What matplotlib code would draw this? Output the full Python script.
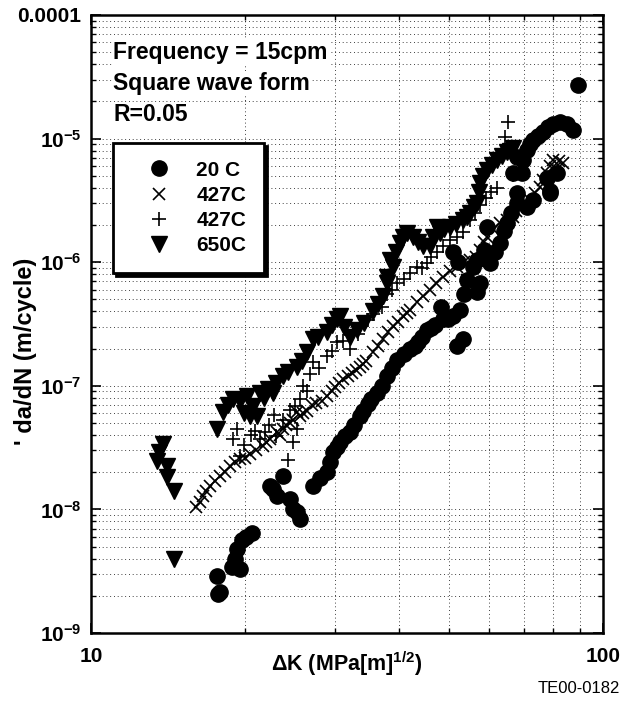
import math
import matplotlib
matplotlib.use("Agg")
import matplotlib.pyplot as plt
from matplotlib.ticker import FixedLocator, FuncFormatter, LogLocator, NullFormatter

plt.rcParams['font.family'] = ['Liberation Sans', 'DejaVu Sans']
plt.rcParams['font.weight'] = 'bold'
plt.rcParams['mathtext.fontset'] = 'custom'
plt.rcParams['mathtext.rm'] = 'Liberation Sans:bold'
plt.rcParams['mathtext.bf'] = 'Liberation Sans:bold'
plt.rcParams['mathtext.it'] = 'Liberation Sans:bold'

# --- data (dK in MPa m^1/2, da/dN in m/cycle) ---
dk_20c = [17.6, 17.7, 17.9, 18.85, 19.1, 19.3, 19.5, 19.7, 20.1, 20.6,
          22.4, 22.7, 23.1, 23.7, 24.5, 24.8, 25.25, 25.6, 27.1, 28.0, 28.9, 29.3, 29.7, 30.2, 30.65,
          31.3, 32.0, 32.7, 33.5, 34.0, 34.75, 35.3, 36.2, 37.0, 37.9, 38.8, 39.6, 40.8, 42.0, 43.0,
          43.5, 44.3, 45.3, 46.2, 47.0, 48.7, 49.8, 50.9, 51.9, 53.3, 52.6, 53.5, 54.3, 55.75,
          56.75, 56.75, 57.5, 58.5, 60.2, 61.5, 62.9, 64.0, 64.9, 59.4, 66.0, 67.9, 67.9, 71.1,
          69.5, 69.8, 71.1, 72.0, 73.0, 74.5, 76.4, 78.0, 80.0, 82.4, 85.0, 87.4, 78.8, 81.3, 89.4,
          50.9, 52.0, 48.3, 66.7, 73.0, 77.7, 67.9, 78.8]
dadn_20c = [2.9e-9, 2.07e-9, 2.14e-9, 3.4e-9, 4.0e-9, 4.8e-9, 3.3e-9, 5.7e-9, 6.0e-9, 6.5e-9,
            1.54e-8, 1.46e-8, 1.28e-8, 1.85e-8, 1.21e-8, 1.0e-8, 9.5e-9, 8.3e-9, 1.54e-8, 1.8e-8, 2.0e-8, 2.4e-8, 2.9e-8, 3.2e-8, 3.5e-8,
            3.9e-8, 4.2e-8, 4.8e-8, 5.7e-8, 6.3e-8, 7.1e-8, 7.8e-8, 8.8e-8, 1.0e-7, 1.19e-7, 1.4e-7, 1.63e-7, 1.8e-7, 1.97e-7, 2.1e-7,
            2.24e-7, 2.5e-7, 2.85e-7, 2.95e-7, 3.1e-7, 3.44e-7, 3.5e-7, 3.64e-7, 2.08e-7, 2.37e-7, 4.14e-7, 5.5e-7, 7.24e-7, 9.2e-7,
            1.05e-6, 5.7e-7, 6.84e-7, 1.25e-6, 9.9e-7, 1.2e-6, 1.44e-6, 1.8e-6, 2.09e-6, 1.94e-6, 2.5e-6, 3.0e-6, 3.65e-6, 2.81e-6,
            5.3e-6, 6.7e-6, 8.1e-6, 9.0e-6, 9.8e-6, 1.05e-5, 1.14e-5, 1.25e-5, 1.3e-5, 1.37e-5, 1.3e-5, 1.18e-5, 3.65e-6, 5.3e-6, 2.72e-5,
            1.2e-6, 1.0e-6, 4.3e-7, 5.3e-6, 3.2e-6, 4.8e-6, 7.1e-6, 3.8e-6]

dk_427x = [16.0, 16.3, 16.55, 16.8, 17.1, 17.5, 17.9, 18.3, 18.7, 19.1, 19.5, 20.0, 20.45, 21.0,
           21.7, 22.0, 22.4, 23.1, 23.4, 23.7, 24.0, 24.5, 24.8, 25.25, 25.6, 26.0, 26.4, 27.0,
           27.5, 28.2, 28.9, 29.5, 30.0, 30.5, 31.1, 31.7, 32.3, 32.9, 33.5, 34.0, 34.5, 35.55,
           36.3, 37.2, 38.0, 38.9, 39.8, 40.7, 41.4, 42.0, 43.3, 44.5, 45.9, 47.2, 48.7, 50.2,
           51.9, 53.5, 55.0, 54.3, 55.75, 56.5, 57.5, 58.5, 59.4, 61.0, 62.9, 64.8, 66.7, 67.7,
           68.85, 70.5, 72.0, 73.6, 75.3, 76.5, 77.7, 78.8, 79.9, 80.5, 82.0, 83.6]
dadn_427x = [1.04e-8, 1.15e-8, 1.28e-8, 1.4e-8, 1.54e-8, 1.7e-8, 1.85e-8, 2.0e-8, 2.23e-8, 2.4e-8, 2.54e-8, 2.6e-8, 2.8e-8, 3.0e-8,
             3.24e-8, 3.5e-8, 3.7e-8, 4.2e-8, 4.0e-8, 4.44e-8, 4.8e-8, 5.0e-8, 5.3e-8, 6.1e-8, 5.66e-8, 6.0e-8, 6.2e-8, 7.0e-8,
             7.2e-8, 7.6e-8, 8.2e-8, 9.0e-8, 9.8e-8, 1.05e-7, 1.13e-7, 1.2e-7, 1.28e-7, 1.35e-7, 1.43e-7, 1.5e-7, 1.6e-7, 1.86e-7,
             2.1e-7, 2.37e-7, 2.7e-7, 3.02e-7, 3.3e-7, 3.64e-7, 3.9e-7, 4.1e-7, 4.72e-7, 5.3e-7, 6.0e-7, 6.8e-7, 7.65e-7, 8.5e-7,
             9.2e-7, 1.0e-6, 1.05e-6, 7.24e-7, 9.2e-7, 1.1e-6, 1.26e-6, 1.45e-6, 1.61e-6, 1.85e-6, 2.09e-6, 2.2e-6, 2.34e-6, 2.6e-6,
             2.81e-6, 3.0e-6, 3.2e-6, 3.6e-6, 4.08e-6, 4.6e-6, 5.29e-6, 6.0e-6, 6.74e-6, 5.8e-6, 6.6e-6, 6.37e-6]

dk_427p = [18.9, 19.3, 19.5, 19.9, 20.5, 20.9, 21.4, 21.9, 22.3, 22.8, 23.0, 23.7, 24.2, 24.5,
           24.8, 25.0, 25.3, 25.6, 26.0, 26.4, 26.8, 27.1, 27.9, 28.9, 29.5, 30.2, 31.0, 32.0,
           33.2, 34.75, 35.5, 36.2, 37.0, 37.9, 38.7, 39.6, 40.8, 42.0, 43.3, 44.3, 45.3, 46.2,
           47.4, 48.8, 50.25, 51.8, 53.3, 55.0, 56.2, 57.5, 59.0, 60.5, 62.1, 64.4, 65.2, 66.7, 68.85]
dadn_427p = [3.7e-8, 4.44e-8, 2.7e-8, 3.3e-8, 4.0e-8, 4.3e-8, 3.7e-8, 4.2e-8, 4.8e-8, 5.8e-8, 3.9e-8, 5.3e-8, 2.5e-8, 6.4e-8,
             3.5e-8, 6.9e-8, 4.5e-8, 7.8e-8, 1.0e-7, 9.0e-8, 1.25e-7, 1.55e-7, 1.4e-7, 1.73e-7, 1.9e-7, 2.24e-7, 2.3e-7, 1.97e-7,
             2.6e-7, 3.4e-7, 3.8e-7, 4.6e-7, 4.3e-7, 5.5e-7, 6.0e-7, 6.84e-7, 7.3e-7, 8.24e-7, 9.2e-7, 9.0e-7, 9.9e-7, 1.1e-6,
             1.2e-6, 1.35e-6, 1.52e-6, 1.6e-6, 1.77e-6, 2.2e-6, 2.5e-6, 2.9e-6, 3.3e-6, 3.7e-6, 4.0e-6, 1.03e-5, 1.37e-5, 5.1e-6, 6.7e-6]

dk_650 = [13.8, 13.6, 13.46, 14.1, 14.1, 14.5, 14.5,
          17.6, 18.1, 18.5, 18.9, 19.5, 19.9, 20.2, 20.45, 21.1, 20.7, 21.4, 21.8, 22.2, 22.7,
          23.0, 23.7, 24.3, 25.25, 25.8, 26.4, 27.1, 27.8, 28.9, 29.5, 30.2, 30.65, 31.2, 32.0,
          33.1, 34.2, 35.5, 36.4, 37.2, 37.9, 38.9, 37.9, 38.4, 39.4, 40.1, 40.7, 41.4, 42.6,
          43.5, 44.5, 45.9, 46.5, 47.4, 48.0, 49.0, 50.25, 51.6, 53.3, 54.2, 55.0, 56.0, 56.75,
          57.2, 57.5, 58.3, 59.4, 60.8, 62.1, 63.5, 64.9, 65.8, 66.7]
dadn_650 = [3.37e-8, 2.9e-8, 2.45e-8, 2.23e-8, 1.82e-8, 1.40e-8, 3.96e-9,
            4.44e-8, 6.1e-8, 7.0e-8, 7.8e-8, 7.5e-8, 6.0e-8, 8.2e-8, 5.7e-8, 5.7e-8, 6.8e-8, 8.8e-8, 8.0e-8, 9.5e-8, 8.8e-8,
            1.05e-7, 1.19e-7, 1.3e-7, 1.43e-7, 1.6e-7, 1.86e-7, 2.37e-7, 2.5e-7, 2.7e-7, 3.1e-7, 3.44e-7, 3.64e-7, 3.0e-7, 2.5e-7,
            2.85e-7, 3.2e-7, 4.0e-7, 4.6e-7, 5.3e-7, 6.8e-7, 9.2e-7, 7.65e-7, 1.05e-6, 1.2e-6, 1.44e-6, 1.61e-6, 1.73e-6, 1.61e-6,
            1.45e-6, 1.34e-6, 1.34e-6, 1.6e-6, 1.94e-6, 1.73e-6, 1.85e-6, 1.94e-6, 2.05e-6, 2.21e-6, 2.3e-6, 2.52e-6, 2.8e-6, 3.03e-6,
            3.7e-6, 4.4e-6, 5.0e-6, 5.6e-6, 6.1e-6, 6.74e-6, 7.2e-6, 7.8e-6, 8.0e-6, 8.4e-6]

series_labels = ['20 C', '427C', '427C', '650C']
notes = ['Frequency = 15cpm', 'Square wave form', 'R=0.05']

fig = plt.figure(figsize=(6.33, 7.06), dpi=100)
ax = fig.add_axes([0.1438, 0.1034, 0.8088, 0.8754])

ax.plot(dk_20c, dadn_20c, 'o', color='k', ms=11, ls='none', label=series_labels[0])
ax.plot(dk_427x, dadn_427x, 'x', color='k', ms=8, mew=1.2, ls='none', label=series_labels[1])
ax.plot(dk_427p, dadn_427p, '+', color='k', ms=10, mew=1.2, ls='none', label=series_labels[2])
ax.plot(dk_650, dadn_650, 'v', color='k', ms=11, ls='none', label=series_labels[3])

ax.set_xscale('log')
ax.set_yscale('log')
ax.set_xlim(10, 100)
ax.set_ylim(1e-9, 1e-4)

ax.xaxis.set_major_locator(FixedLocator([10, 100]))
ax.xaxis.set_minor_locator(LogLocator(base=10, subs=range(2, 10)))
ax.xaxis.set_minor_formatter(NullFormatter())
ax.xaxis.set_major_formatter(FuncFormatter(lambda v, p: '%d' % round(v)))

ax.yaxis.set_major_locator(FixedLocator([1e-9, 1e-8, 1e-7, 1e-6, 1e-5, 1e-4]))
ax.yaxis.set_minor_locator(LogLocator(base=10, subs=range(2, 10)))
ax.yaxis.set_minor_formatter(NullFormatter())


def ylab(v, pos):
    if v >= 1e-4 * 0.99:
        return '0.0001'
    return r'$\mathbf{10^{%d}}$' % int(round(math.log10(v)))


ax.yaxis.set_major_formatter(FuncFormatter(ylab))

ax.tick_params(which='both', direction='in', top=True, right=True)
ax.tick_params(which='major', length=7, width=1.2, labelsize=15, pad=7)
ax.tick_params(which='minor', length=3.5, width=1)
ax.tick_params(axis='x', which='major', pad=10)
for s in ax.spines.values():
    s.set_linewidth(1.8)

ax.grid(True, which='both', color='k', linestyle=(0, (1, 3.5)), linewidth=0.6)

ax.set_xlabel(r'$\Delta$K (MPa[m]$^{1/2}$)', fontsize=15.5, fontweight='bold', labelpad=-12)
ax.set_ylabel("' da/dN (m/cycle)", fontsize=17, fontweight='bold')
ax.yaxis.set_label_coords(-0.105, 0.456)

for i, t in enumerate(notes):
    ax.text(0.043, 0.939 - i * 0.05, t, transform=ax.transAxes, fontsize=16.5,
            fontweight='bold', va='center', ha='left', zorder=5,
            bbox=dict(facecolor='white', edgecolor='none', pad=1))

leg = ax.legend(loc='upper left', bbox_to_anchor=(0.043, 0.793), borderaxespad=0,
                frameon=True, fancybox=False, shadow={'color': 'k', 'alpha': 1},
                prop={'size': 15, 'weight': 'bold'}, labelspacing=0.3,
                handletextpad=0.4, borderpad=0.85, handlelength=2.75)
leg.get_frame().set_edgecolor('k')
leg.get_frame().set_linewidth(2)
leg.get_frame().set_alpha(1)

fig.text(0.98, 0.025, 'TE00-0182', ha='right', va='center', fontsize=12,
         fontweight='normal', family=['Liberation Sans Narrow', 'Liberation Sans'])

fig.savefig('out.png', dpi=100)
